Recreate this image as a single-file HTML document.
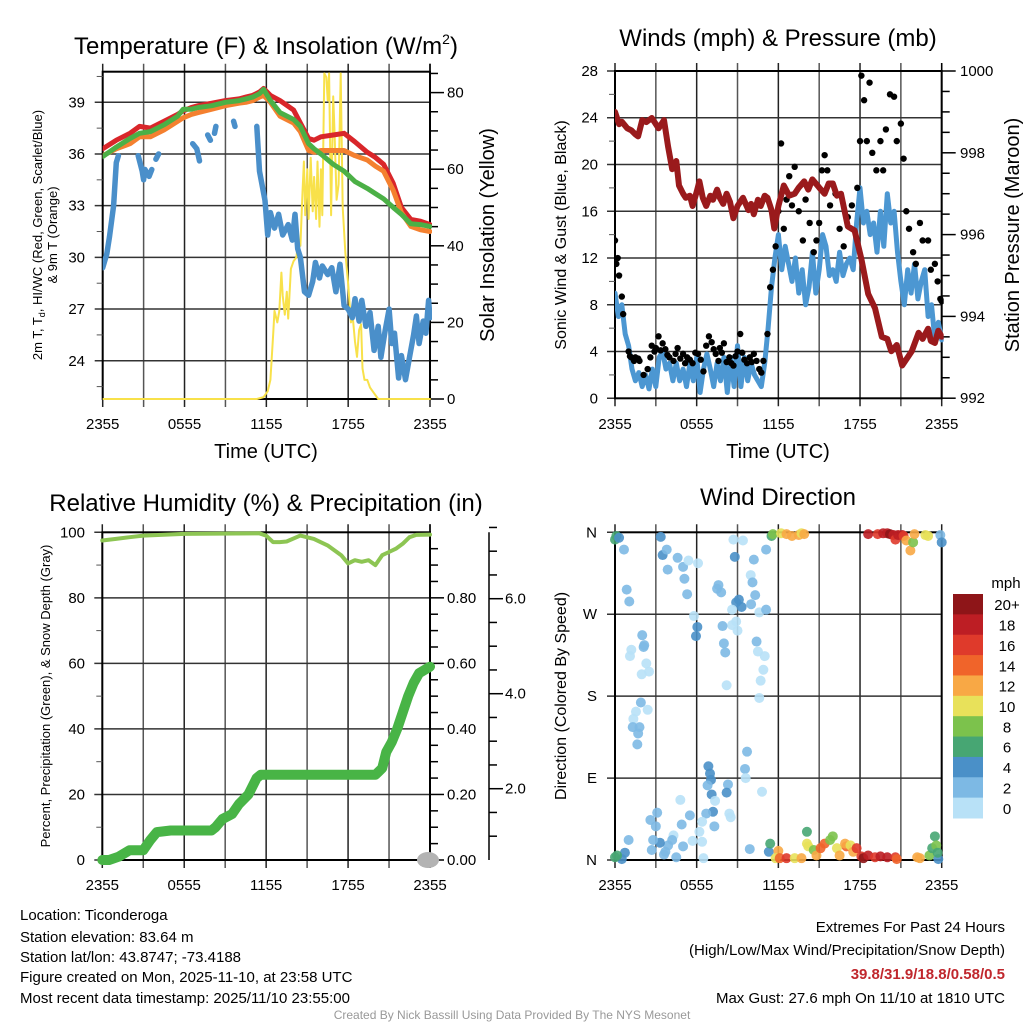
<!DOCTYPE html>
<html><head><meta charset="utf-8">
<style>
html,body{margin:0;padding:0;background:#fff;}
svg{display:block;font-family:"Liberation Sans",Arial,sans-serif;}
</style></head>
<body>
<svg id="chart" width="1024" height="1024" viewBox="0 0 1024 1024" xmlns="http://www.w3.org/2000/svg">
<rect x="0" y="0" width="1024" height="1024" fill="#fff"/>
<text x="266" y="54" font-size="24" text-anchor="middle">Temperature (F) &amp; Insolation (W/m<tspan font-size="14" dy="-10">2</tspan><tspan dy="10">)</tspan></text>
<text x="778" y="46" font-size="24" text-anchor="middle">Winds (mph) &amp; Pressure (mb)</text>
<text x="266" y="511" font-size="24" text-anchor="middle">Relative Humidity (%) &amp; Precipitation (in)</text>
<text x="778" y="505" font-size="24" text-anchor="middle">Wind Direction</text>
<text x="266" y="458" font-size="20" text-anchor="middle">Time (UTC)</text>
<text x="778" y="458" font-size="20" text-anchor="middle">Time (UTC)</text>
<text transform="translate(42,235) rotate(-90)" font-size="13" text-anchor="middle">2m T, T<tspan font-size="9" dy="3">d</tspan><tspan dy="-3">, HI/WC (Red, Green, Scarlet/Blue)</tspan></text>
<text transform="translate(57,235) rotate(-90)" font-size="13" text-anchor="middle">&amp; 9m T (Orange)</text>
<text transform="translate(494,235) rotate(-90)" font-size="20" text-anchor="middle">Solar Insolation (Yellow)</text>
<text transform="translate(566,235) rotate(-90)" font-size="16" text-anchor="middle">Sonic Wind &amp; Gust (Blue, Black)</text>
<text transform="translate(1019,235) rotate(-90)" font-size="20" text-anchor="middle">Station Pressure (Maroon)</text>
<text transform="translate(50,696) rotate(-90)" font-size="13" text-anchor="middle">Percent, Precipitation (Green), &amp; Snow Depth (Gray)</text>
<text transform="translate(566,696) rotate(-90)" font-size="16" text-anchor="middle">Direction (Colored By Speed)</text>
<g font-size="15">
<text x="20" y="920">Location: Ticonderoga</text>
<text x="20" y="942">Station elevation: 83.64 m</text>
<text x="20" y="962">Station lat/lon: 43.8747; -73.4188</text>
<text x="20" y="982">Figure created on Mon, 2025-11-10, at 23:58 UTC</text>
<text x="20" y="1003">Most recent data timestamp: 2025/11/10 23:55:00</text>
</g>
<g font-size="15" text-anchor="end">
<text x="1005" y="932">Extremes For Past 24 Hours</text>
<text x="1005" y="955">(High/Low/Max Wind/Precipitation/Snow Depth)</text>
<text x="1005" y="979" fill="#c0272d" font-weight="bold">39.8/31.9/18.8/0.58/0.5</text>
<text x="1005" y="1003">Max Gust: 27.6 mph On 11/10 at 1810 UTC</text>
</g>
<text x="512" y="1019" font-size="12" fill="#999" text-anchor="middle">Created By Nick Bassill Using Data Provided By The NYS Mesonet</text>
</svg>
<script>
// ---- Panel 1 data (hours since 2355) ----
const tempHours = [0,1,2,2.7,3.5,4.5,5.5,5.9,6.5,7,8,9,10,10.5,11,11.5,11.8,12.3,13,14,14.5,15.1,15.5,16,16.9,17.7,18.5,19.4,20,20.6,21.3,21.9,22.6,23.3,24];
const tempRed = [36.3,36.8,37.2,37.6,37.5,37.9,38.3,38.5,38.7,38.8,38.95,39.1,39.2,39.3,39.4,39.6,39.8,39.4,39.1,38.55,37.8,36.9,36.8,37.0,37.1,37.2,36.7,36.1,35.8,35.4,34.3,32.9,32.2,32.1,31.9];
const tempGreen = [35.85,36.4,36.9,37.2,37.3,37.7,38.2,38.6,38.6,38.7,38.8,39.0,39.1,39.2,39.3,39.5,39.75,39.1,38.4,38.0,37.6,36.6,36.3,36.0,35.4,35.0,34.4,34.0,33.7,33.4,32.9,32.5,31.95,31.9,31.8];
const tempOrange = [35.9,36.3,36.6,37.0,37.0,37.4,37.9,38.1,38.3,38.4,38.6,38.8,38.95,39.0,39.1,39.3,39.4,39.0,38.2,37.8,37.3,36.2,36.1,36.2,36.2,36.2,35.9,35.65,35.3,35.0,33.9,32.6,31.8,31.6,31.5];
const dewHours = [0,0.3,0.5,0.8,1.0,1.15,1.5,2.6,2.9,3.0,3.1,3.4,3.6,3.75,3.9,4.1,5,6.6,6.9,7.1,7.4,7.7,7.9,8.05,8.2,8.3,9,9.6,9.7,10,11.3,11.5,11.9,12.1,12.3,12.6,12.9,13.2,13.6,13.9,14.1,14.3,14.5,14.8,15.1,15.4,15.6,15.9,16.1,16.5,16.8,17.1,17.4,17.7,18.0,18.3,18.5,18.8,19.0,19.3,19.6,19.9,20.2,20.4,20.7,21.0,21.2,21.4,21.7,21.9,22.2,22.5,22.8,23.0,23.2,23.5,23.7,23.9,24.0];
const dewValues = [29.4,30.2,31.2,33,35.5,35.9,null,35.9,35.0,34.5,35.1,34.7,35.1,null,35.7,36.0,null,36.6,36.3,35.6,null,37.1,36.8,null,37.2,37.6,null,37.9,37.6,null,37.6,35.0,33.3,31.3,32.6,31.7,32.5,31.3,31.9,31.0,32.5,30.5,30.0,28.0,27.8,28.6,29.7,28.8,29.5,29.0,29.4,28.0,29.6,27.2,27.0,26.5,27.6,26.3,27.5,26.0,26.8,24.6,26.0,24.2,25.7,27.0,25.0,25.6,23.0,24.3,22.9,24.2,25.5,26.6,25.0,26.3,25.6,27.5,26.5];
const solarHours = [0,11.3,11.8,12.1,12.3,12.5,12.6,12.8,12.95,13.1,13.2,13.35,13.5,13.6,13.8,14.0,14.2,14.35,14.5,14.65,14.75,14.85,15.0,15.1,15.25,15.4,15.5,15.65,15.75,15.9,16.0,16.1,16.25,16.4,16.5,16.6,16.75,16.9,17.0,17.15,17.3,17.45,17.6,17.8,18.0,18.2,18.35,18.5,18.65,18.8,18.95,19.05,19.2,19.4,19.6,19.8,20.2,24];
const solarValues = [0,0,0.5,2,5,17,23,20,23,33,27,22,28,21,34,36,37,42,40,54,62,48,60,47,63,49,58,47,62,45,60,48,85,84,78,85,48,79,70,52,56,85,50,38,30,20,21,15,11,18,19.5,8,5,5,3,2,0,0];
const tempTicks = [24,27,30,33,36,39];
const solarTicks = [0,20,40,60,80];
const timeTickLabels = ["2355","0555","1155","1755","2355"];
// ---- Panel 2 data ----
const windHours = [0,0.25,0.5,0.75,1,1.25,1.5,1.75,2,2.25,2.5,2.75,3,3.25,3.5,3.75,4,4.25,4.5,4.75,5,5.25,5.5,5.75,6,6.25,6.5,6.75,7,7.25,7.5,7.75,8,8.25,8.5,8.75,9,9.25,9.5,9.75,10,10.25,10.5,10.75,11,11.25,11.5,11.75,12,12.25,12.5,12.75,13,13.25,13.5,13.75,14,14.25,14.5,14.75,15,15.25,15.5,15.75,16,16.25,16.5,16.75,17,17.25,17.5,17.75,18,18.25,18.5,18.75,19,19.25,19.5,19.75,20,20.25,20.5,20.75,21,21.25,21.5,21.75,22,22.25,22.5,22.75,23,23.25,23.5,23.75,24];
const windSpeed = [9,7,8,5.5,4.5,2.5,1.5,2.2,1,2,0.8,2.5,1,3.5,4,2.5,3,1.5,3,1.5,2.5,1,3,1.5,3.5,0.5,2.5,3.8,2.5,1,3,1.5,3.5,0.5,3.5,1,4.5,1,3.5,1.5,3,2,1.5,1,3,6,9.5,12,14,11,13,11.5,10,12,9,11,8,9.5,12.5,9,11,14,13,10.5,11,10,12.5,10.5,11.5,12,11,15,18,15,16,14,15,12.5,16,13,17.5,15,16,12.5,10,8,11,9,11.5,8.5,10,11,7,8,5,6.5,5];
const gustHours = [0,0.1,0.2,0.3,0.5,0.6,1.0,1.1,1.2,1.4,1.5,1.7,1.8,2.1,2.4,2.6,2.7,2.9,3.0,3.2,3.35,3.5,3.7,3.85,4.0,4.3,4.45,4.6,4.8,5.0,5.15,5.3,5.5,5.7,5.9,6.1,6.3,6.5,6.7,6.9,7.1,7.25,7.4,7.6,7.7,7.85,8.0,8.2,8.4,8.55,8.7,8.85,9.0,9.2,9.35,9.5,9.7,9.9,10.05,10.2,10.4,10.6,10.75,10.9,11.2,11.4,11.6,11.8,12.0,12.2,12.4,12.6,12.8,13.0,13.2,13.5,13.8,14.0,14.3,14.6,14.8,15.0,15.2,15.4,15.6,15.8,16.2,16.5,16.8,17.1,17.4,17.8,18.0,18.1,18.3,18.5,18.7,18.9,19.2,19.5,19.7,19.9,20.2,20.5,20.7,21.0,21.2,21.4,21.6,21.9,22.1,22.4,22.6,23.0,23.2,23.5,23.7,23.9,24.0];
const gustSpeed = [13.5,11.5,12,10.5,8.7,7.2,4,3.6,3.5,3.2,3.5,3.4,3.2,2,2.5,3.5,4.5,4.0,4.3,5.3,4.1,4.7,4.2,3.7,3.5,3.2,3.8,4.3,3.4,3.8,3.0,3.5,3.3,3,3.9,3.8,3.3,2.3,4.5,5.3,4.8,4.2,3.8,3.2,4.3,3.9,4.7,3.1,3.5,3.0,2.8,3.6,4,5.5,3.9,3.3,3.0,3.5,3.1,3.8,3.2,2.5,2.2,3.2,5.5,9.5,11,13,16,21.8,14.5,17,19,16.5,19.8,16,13.5,17,15,12.5,13.5,15,19.5,20.8,19.5,16.5,17.5,14.5,13,15.5,16.5,18,22,27.6,25.5,22,27,21,19.5,22,19.5,23,26,25.8,22,23.5,20.5,16,14.5,12.5,11.5,15,13.5,13.5,11,11.5,10,8.5,8.3];
const pressHours = [0,0.3,0.5,0.9,1.2,1.5,1.7,2,2.3,2.7,3.2,3.6,3.9,4.2,4.5,4.7,5.0,5.2,5.5,5.7,6.0,6.2,6.45,6.7,7.0,7.2,7.5,7.7,7.95,8.2,8.45,8.7,9.0,9.4,9.8,10.0,10.2,10.5,10.7,11.0,11.2,11.5,11.7,12.0,12.4,12.8,13.2,13.5,13.9,14.2,14.5,15.0,15.4,15.7,16,16.3,16.6,17.1,17.6,18.1,18.6,19.1,19.6,20.0,20.3,20.7,21.1,21.5,21.8,22.3,22.6,23,23.2,23.5,23.75,24];
const pressValues = [999.0,998.7,998.76,998.6,998.55,998.45,998.4,998.8,998.75,998.85,998.6,998.8,998.15,997.6,997.8,997.2,997.0,996.9,996.95,996.7,997.05,997.3,996.9,996.7,996.95,996.85,997.1,996.9,996.75,997.0,996.8,996.4,996.7,996.9,996.6,996.75,996.5,996.85,996.7,996.95,996.9,996.6,996.15,996.7,997.2,996.95,997.0,997.15,997.3,997.1,997.35,997.15,997.0,997.25,997.25,996.95,997.0,996.2,996.1,995.4,994.55,994.2,993.5,993.45,993.15,993.3,992.8,993.0,993.15,993.6,993.45,993.7,993.4,993.35,993.65,993.5];
const windTicks = [0,4,8,12,16,20,24,28];
const pressTicks = [992,994,996,998,1000];
// ---- Panel 3 data ----
const rhHours = [0,1,2,3,6,11.5,12,12.5,13,13.5,14.5,15.5,16.5,17.5,18,18.5,19,19.5,20,20.5,21,21.5,22,22.5,23,24];
const rhValues = [97.5,98,98.5,99,99.5,99.7,99,97,97,97.2,99,98,96,93,90.5,91.5,91,91.5,90,93,94,95,96.5,98.5,99.2,99.3];
const precipHours = [0,0.5,1.2,2,3,3.5,4,5,8,8.3,8.8,9.5,10,10.7,11.3,11.6,20,20.5,20.8,21.2,21.6,22,22.4,22.8,23.2,24];
const precipValues = [0,0,0.01,0.03,0.03,0.06,0.085,0.09,0.09,0.1,0.125,0.14,0.17,0.2,0.25,0.26,0.26,0.28,0.33,0.36,0.4,0.45,0.5,0.54,0.57,0.59];
const snowHours = [24];
const snowValues = [0];
const rhTicks = [0,20,40,60,80,100];
const precipTicks = [0,0.2,0.4,0.6,0.8];
const snowTicks = [2,4,6];
// ---- Panel 4 data ----
const dirHours = [0,0.1,0.3,0.66,0.86,1.05,2.0,2.1,2.15,1.2,1.1,2.3,2.5,1.96,1.9,1.54,2.4,1.35,1.3,1.8,1.7,1.64,3.36,3.5,3.8,3.87,4.6,5.0,5.4,6.1,5.1,5.3,5.8,6.05,5.95,7.6,7.5,7.8,8.7,9.4,8.8,10.2,11.1,9.97,10.1,10.3,10.0,9.1,8.9,9.3,8.6,8.9,8.6,9.0,7.9,8.0,8.1,8.2,10.6,11.1,10.4,10.5,11.0,10.9,10.7,10.6,9.7,9.55,9.6,10.8,6.86,6.98,7.05,6.8,7.1,8.3,8.2,7.35,7.2,6.7,4.8,5.5,4.9,3.1,2.6,3.0,6.4,6.2,8.4,8.5,7.3,5.7,6.4,4.3,4.2,3.9,3.3,2.8,2.7,3.7,4.5,5.0,1.0,0.73,0.5,0,0.15,6.5,9.9,3.6,11.3,11.4,12.0,11.8,12.1,12.6,13.2,13.7,14.1,14.1,14.2,14.6,14.8,15.1,15.4,15.8,16.0,16.3,16.5,17.0,16.9,17.3,17.5,17.75,18.1,18.25,18.6,19.1,19.5,20.0,20.6,20.7,22.2,22.4,23.1,23.3,23.5,23.6,23.75,23.7,11.5,11.6,12.2,12.6,13.0,13.5,13.7,13.9,18.6,19.3,19.7,20.0,20.2,20.45,20.6,20.8,21.1,21.2,21.4,21.7,21.9,22.0,22.8,23.0,23.9,24.0];
const dirDegrees = [352,356,354,341,297,284,247,234,236,231,224,216,207,204,173,163,165,155,146,146,139,127,355,335,341,319,332,322,329,326,309,292,268,256,246,302,298,294,352,351,333,330,341,313,305,291,281,286,283,278,275,262,258,252,257,238,228,192,272,275,240,229,224,209,197,178,119,100,90,75,103,95,88,82,72,83,74,65,53,51,66,49,39,52,44,37,42,31,51,47,37,21,20,27,22,16,19,22,11,9,3,15,22,8,1,3,5,2,12,6,9,18,10,2,2,2,2,2,31,18,15,11,5,13,18,22,26,13,5,15,18,16,9,13,4,2,5,3,4,3,3,1,3,2,5,13,26,16,1,8,356,358,359,358,356,357,359,358,358,358,359,359,358,357,352,357,357,356,351,340,349,358,357,356,357,349];
const dirSpeed = [7,6,4,3,3,3,3,3.5,2,1,0.5,1,1,0.5,3,1,1,1,3,3,3,3,4,4.5,3,3,3,3,0.5,0.5,3,3,0.5,4,4,3,3,3,0.5,0.5,4,3,3,0.5,3,3,3,4,4,4.5,0.5,0.5,0.5,0.5,3,3,3,0.5,1,3,3,1,1,0.5,0.5,0.5,3,3,1,1,5,5,4,3,5,3,5,1,5,3,0.5,3,3,3,3,3,0.5,0.5,1,1,3,0.5,0.5,1,3,3,4,3,3,3,3,3,3,4,5,6,7,0.5,3,3,5,7,12,10,14,16,10,12,7,10,10,8,12,15,15,8,9,10,12,14,12,11,13,16,17,20,19,16,18,18,16,14,12,12,9,6,6,8,4,6,7,8,10,12,12,12,10,12,18,17,18,19,20,18,17,18,18,17,13,13,9,13,10,10,3,5];
const dirTickLabels = ["N","E","S","W","N"];
const speedBinLabels = ["20+","18","16","14","12","10","8","6","4","2","0"];
const speedColors = ["#8e1518","#bd1e24","#df3a2b","#f0642a","#f8a845","#e8e15a","#7cc24c","#47a673","#4a90c8","#7db9e4","#b8e1f7"];

const svg = document.getElementById('chart');
const NS = 'http://www.w3.org/2000/svg';
function mk(tag, attrs, parent) {
  const el = document.createElementNS(NS, tag);
  for (const k in attrs) el.setAttribute(k, attrs[k]);
  (parent || svg).appendChild(el);
  return el;
}
function pathFrom(xs, ys, fx, fy) {
  let d = '', pen = false;
  for (let i = 0; i < xs.length; i++) {
    if (ys[i] === null || ys[i] === undefined) { pen = false; continue; }
    d += (pen ? 'L' : 'M') + fx(xs[i]).toFixed(1) + ' ' + fy(ys[i]).toFixed(1);
    pen = true;
  }
  return d;
}
function drawGridBox(L, R, T, B, yVals, fy, name) {
  const g = mk('g', {});
  
  
  for (let k = 0; k <= 8; k++) {
    const x = L + k * (R - L) / 8;
    const ln = mk('line', {x1: x, x2: x, y1: T - 8, y2: B + 8, stroke: k % 2 ? '#555' : '#222', 'stroke-width': 1.5}, g);
    
    
  }
  yVals.forEach(v => {
    const y = fy(v);
    const ln = mk('line', {x1: L - 8, x2: R, y1: y, y2: y, stroke: '#333', 'stroke-width': 1.5}, g);
    
    
  });
  const bx = mk('rect', {x: L, y: T, width: R - L, height: B - T, fill: 'none', stroke: '#000', 'stroke-width': 2}, g);
  
  
  timeTickLabels.forEach((lab, i) => {
    const t = mk('text', {x: L + i * (R - L) / 4, y: 429, 'font-size': 15, 'text-anchor': 'middle'}, g);
    if (T > 500) t.setAttribute('y', 890);
    t.textContent = lab;
    
    
  });
  return g;
}
function yLabels(vals, fy, x, anchor, fmt, name) {
  vals.forEach(v => {
    const t = mk('text', {x: x, y: fy(v) + 5, 'font-size': 15, 'text-anchor': anchor});
    t.textContent = fmt(v);
    
    
  });
}
function rightAxis(x, T, B, majors, minors, fy, name) {
  const g = mk('g', {stroke: '#000', 'stroke-width': 1.5});
  
  
  mk('line', {x1: x, x2: x, y1: T - 8, y2: B}, g);
  majors.forEach(v => mk('line', {x1: x, x2: x + 14, y1: fy(v), y2: fy(v)}, g));
  minors.forEach(v => mk('line', {x1: x, x2: x + 8, y1: fy(v), y2: fy(v)}, g));
}

// ---------- Panel 1 ----------
const p1 = {L: 102.7, R: 430, T: 71.7, B: 399};
const x1 = h => p1.L + h / 24 * (p1.R - p1.L);
const yT = t => 102.3 + (39 - t) * 17.23;
const yS = s => 399 - s * 3.83;
drawGridBox(p1.L, p1.R, p1.T, p1.B, tempTicks, yT, 'temp');
yLabels(tempTicks, yT, 85, 'end', v => String(v), 'temp-y-tick-label');
const minorT = [22.5, 25.5, 28.5, 31.5, 34.5, 37.5, 40.5];
minorT.forEach(v => mk('line', {x1: p1.L - 6, x2: p1.L, y1: yT(v), y2: yT(v), stroke: '#555', 'stroke-width': 1}));
rightAxis(p1.R, p1.T, p1.B, solarTicks, [5,10,15,25,30,35,45,50,55,65,70,75,85], yS, 'solar-axis');
yLabels(solarTicks, yS, 447, 'start', v => String(v), 'solar-tick-label');
const clip1 = mk('clipPath', {id: 'c1'});
mk('rect', {x: p1.L, y: p1.T - 2, width: p1.R - p1.L + 2, height: p1.B - p1.T + 4}, clip1);
const g1 = mk('g', {'clip-path': 'url(#c1)', fill: 'none', 'stroke-linecap': 'round', 'stroke-linejoin': 'round'});
let el;
el = mk('path', {d: pathFrom(solarHours, solarValues, x1, yS), stroke: '#f8e14a', 'stroke-width': 2}, g1);


el = mk('path', {d: pathFrom(dewHours, dewValues, x1, yT), stroke: '#4a8fca', 'stroke-width': 5.5}, g1);


el = mk('path', {d: pathFrom(tempHours, tempRed, x1, yT), stroke: '#d9262a', 'stroke-width': 5}, g1);


el = mk('path', {d: pathFrom(tempHours, tempOrange, x1, yT), stroke: '#f4802f', 'stroke-width': 5}, g1);


el = mk('path', {d: pathFrom(tempHours, tempGreen, x1, yT), stroke: '#4bb046', 'stroke-width': 5}, g1);



// ---------- Panel 2 ----------
const p2 = {L: 615, R: 941.7, T: 71, B: 398.3};
const x2 = h => p2.L + h / 24 * (p2.R - p2.L);
const yW = w => 398.3 - w * 11.69;
const yP = p => 71 + (1000 - p) * 40.9;
drawGridBox(p2.L, p2.R, p2.T, p2.B, windTicks, yW, 'wind');
yLabels(windTicks, yW, 598, 'end', v => String(v), 'wind-y-tick-label');
[2,6,10,14,18,22,26].forEach(v => mk('line', {x1: p2.L - 6, x2: p2.L, y1: yW(v), y2: yW(v), stroke: '#555', 'stroke-width': 1}));
rightAxis(p2.R, p2.T, p2.B, pressTicks, [992.5,993,993.5,994.5,995,995.5,996.5,997,997.5,998.5,999,999.5], yP, 'pressure-axis');
yLabels(pressTicks, yP, 960, 'start', v => String(v), 'pressure-tick-label');
const clip2 = mk('clipPath', {id: 'c2'});
mk('rect', {x: p2.L, y: p2.T - 2, width: p2.R - p2.L + 2, height: p2.B - p2.T + 4}, clip2);
const g2 = mk('g', {'clip-path': 'url(#c2)', fill: 'none', 'stroke-linecap': 'round', 'stroke-linejoin': 'round'});
el = mk('path', {d: pathFrom(windHours, windSpeed, x2, yW), stroke: '#4c97d2', 'stroke-width': 5}, g2);


gustHours.forEach((h, i) => {
  const c = mk('circle', {cx: x2(h), cy: yW(gustSpeed[i]), r: 3.2, fill: '#000'}, g2);
  
  
});
el = mk('path', {d: pathFrom(pressHours, pressValues, x2, yP), stroke: '#9a1a1c', 'stroke-width': 6}, g2);



// ---------- Panel 3 ----------
const p3 = {L: 102.3, R: 430, T: 532.3, B: 860};
const x3 = h => p3.L + h / 24 * (p3.R - p3.L);
const yR = v => 860 - v * 3.277;
drawGridBox(p3.L, p3.R, p3.T, p3.B, rhTicks, yR, 'humidity');
yLabels(rhTicks, yR, 85, 'end', v => String(v), 'humidity-y-tick-label');
[10,30,50,70,90].forEach(v => mk('line', {x1: p3.L - 6, x2: p3.L, y1: yR(v), y2: yR(v), stroke: '#555', 'stroke-width': 1}));
const yPr = p => yR(p * 100);
rightAxis(p3.R, p3.T, p3.B, precipTicks, [0.05,0.1,0.15,0.25,0.3,0.35,0.45,0.5,0.55,0.65,0.7,0.75,0.85,0.9,0.95], yPr, 'precip-axis');
yLabels(precipTicks, yPr, 447, 'start', v => v.toFixed(2), 'precip-tick-label');
const ySn = s => 883.7 - s * 47.5;
rightAxis(489, p3.T + 8, p3.B, snowTicks, [1,1.5,2.5,3,3.5,4.5,5,5.5,6.5,7,7.5], ySn, 'snow-axis');
yLabels(snowTicks, ySn, 505, 'start', v => v.toFixed(1), 'snow-tick-label');
const g3 = mk('g', {fill: 'none', 'stroke-linecap': 'round', 'stroke-linejoin': 'round'});
snowHours.forEach((h, i) => {
  const e = mk('ellipse', {cx: x3(h) - 2, cy: yR(snowValues[i] * 10), rx: 11, ry: 8, fill: '#b3b3b3'}, g3);
  
  
});
el = mk('path', {d: pathFrom(rhHours, rhValues, x3, yR), stroke: '#8dc553', 'stroke-width': 4}, g3);


el = mk('path', {d: pathFrom(precipHours, precipValues, x3, yPr), stroke: '#48b446', 'stroke-width': 10}, g3);



// ---------- Panel 4 ----------
const p4 = {L: 615, R: 941.7, T: 532.3, B: 860};
const x4 = h => p4.L + h / 24 * (p4.R - p4.L);
const yD = d => 860 - d / 360 * (860 - 532.3);
const dirTickVals = [0, 90, 180, 270, 360];
drawGridBox(p4.L, p4.R, p4.T, p4.B, dirTickVals, yD, 'direction');
dirTickVals.forEach((v, i) => {
  const t = mk('text', {x: 597, y: yD(v) + 5, 'font-size': 15, 'text-anchor': 'end'});
  t.textContent = dirTickLabels[i];
  
  
});
const g4 = mk('g', {});
dirHours.forEach((h, i) => {
  const bin = Math.max(0, 10 - Math.min(10, Math.floor(dirSpeed[i] / 2)));
  const c = mk('circle', {cx: x4(h), cy: yD(dirDegrees[i]), r: 5, fill: speedColors[bin], 'fill-opacity': 0.9}, g4);
  
  
});
// colorbar
const cb = mk('g', {});


const cbTop = 594, cbH = (818 - 594) / 11;
speedColors.forEach((c, i) => {
  const r = mk('rect', {x: 953, y: cbTop + i * cbH, width: 30, height: cbH + 0.5, fill: c}, cb);
  
  
  const t = mk('text', {x: 1007, y: cbTop + i * cbH + cbH / 2 + 6, 'font-size': 15, 'text-anchor': 'middle'}, cb);
  t.textContent = speedBinLabels[i];
  
  
});
const mph = mk('text', {x: 1006, y: 588, 'font-size': 15, 'text-anchor': 'middle'}, cb);
mph.textContent = 'mph';


</script>
</body></html>
